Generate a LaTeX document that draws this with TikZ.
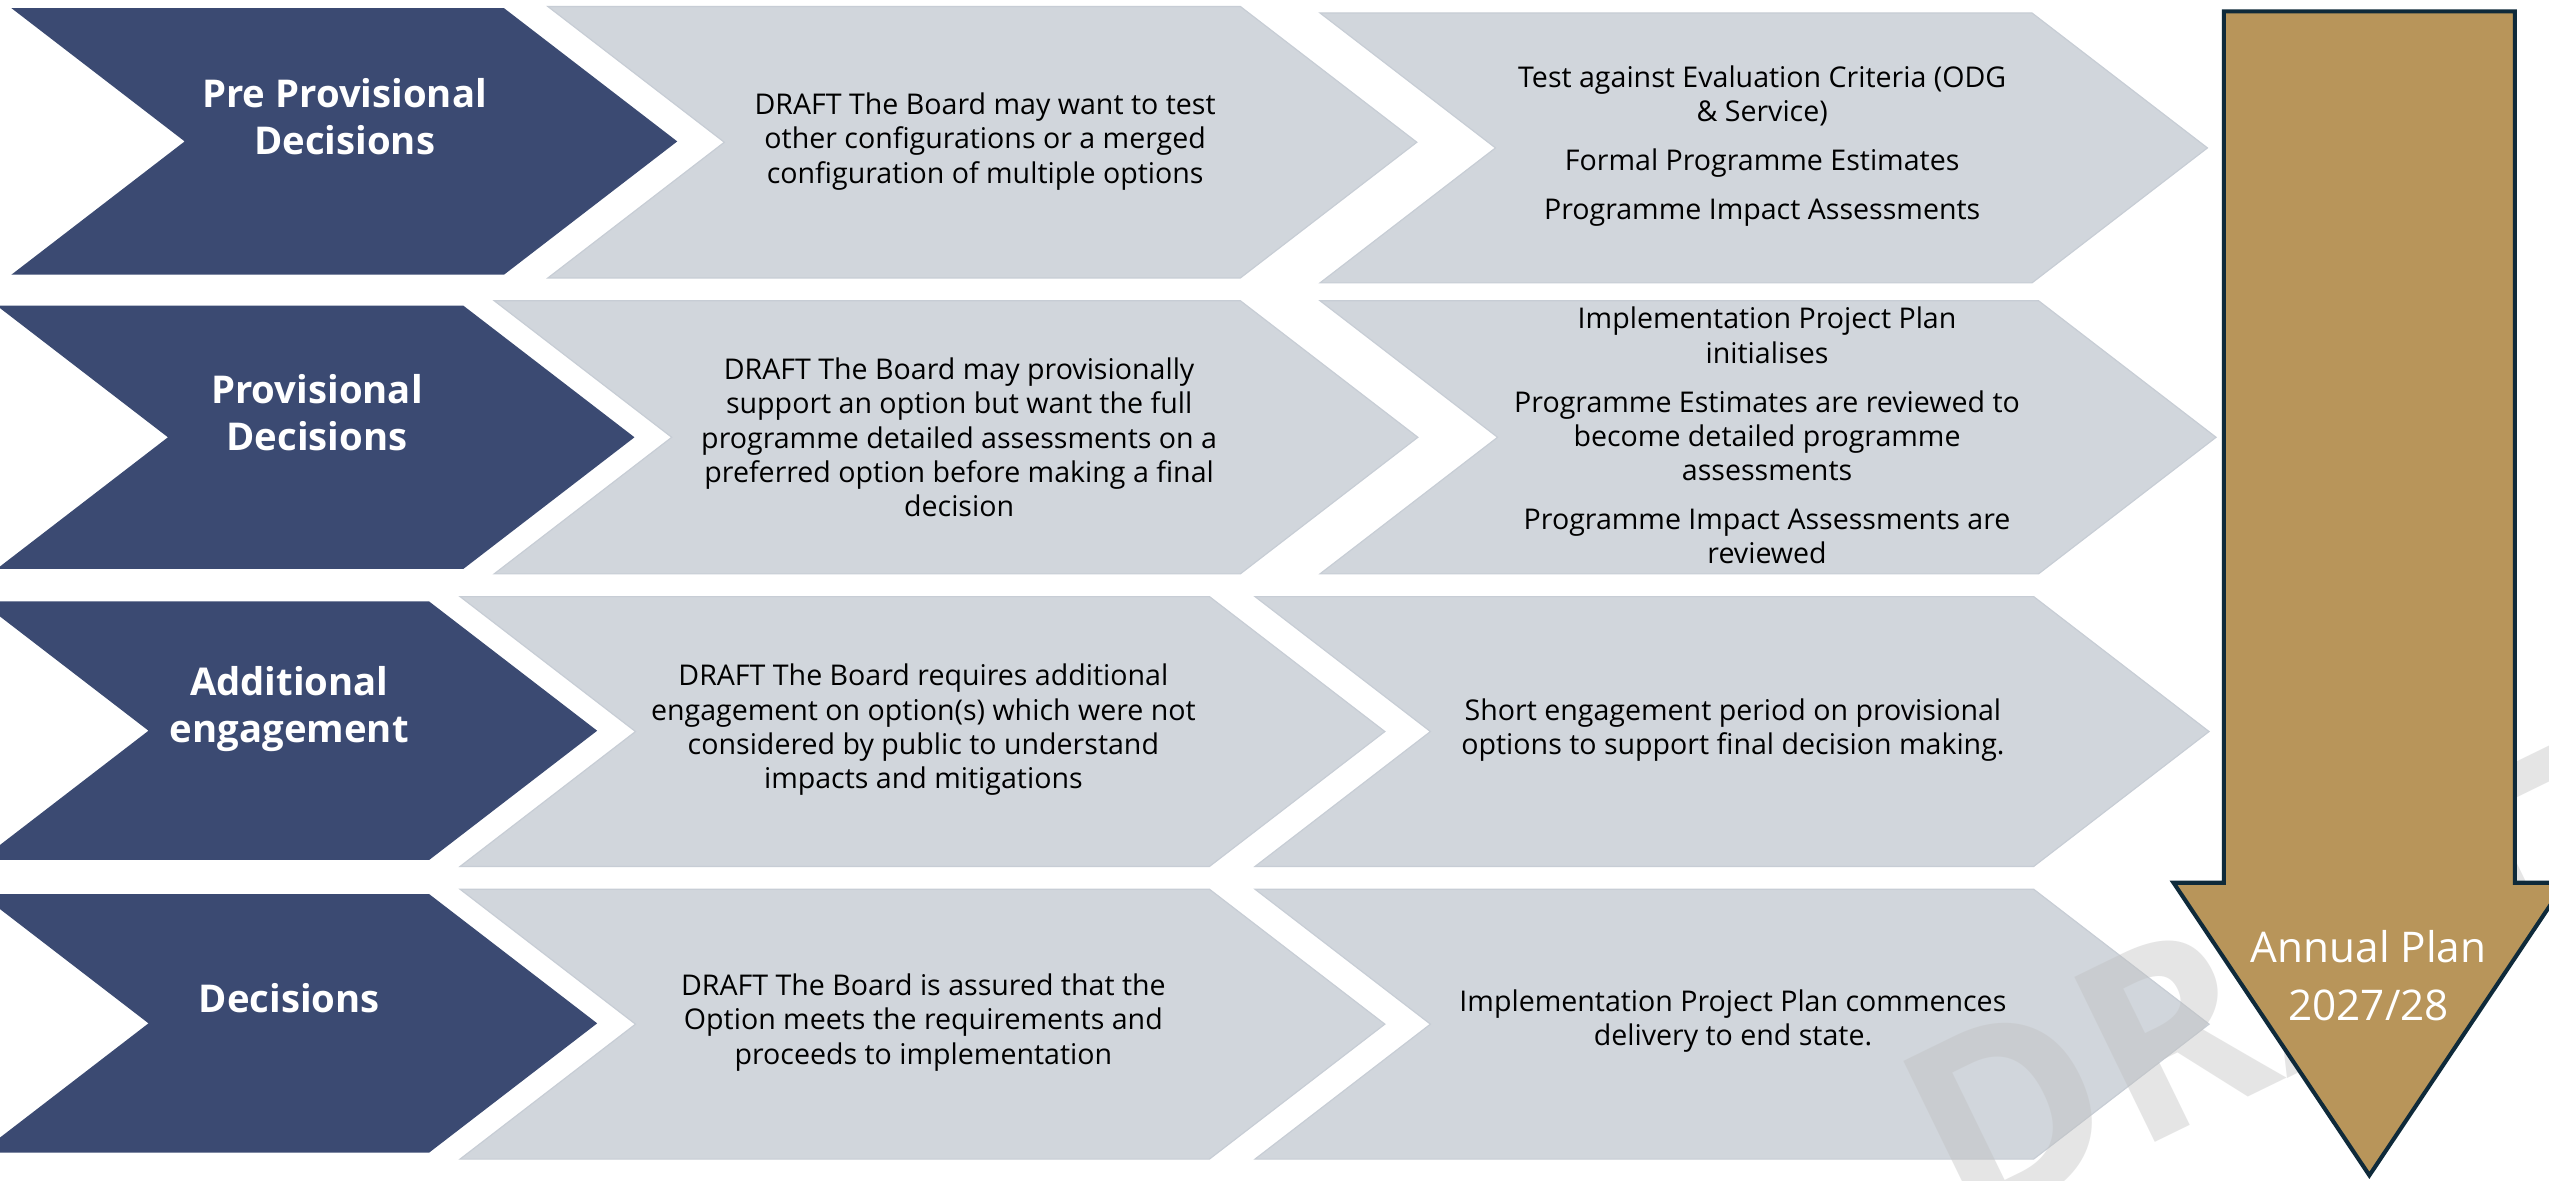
\documentclass[tikz,border=0pt]{standalone}
\usepackage{fontspec}
\setmainfont{Open Sans}
\definecolor{BoardNavy}{HTML}{3B4A72}
\definecolor{BoardMist}{HTML}{D1D6DC}
\definecolor{BoardMistLine}{HTML}{C7CDD5}
\definecolor{BoardGold}{HTML}{B8955A}
\definecolor{BoardInk}{HTML}{0F2A3A}
\definecolor{BoardMark}{HTML}{BFBFBF}
\tikzset{
  stagechev/.style={fill=BoardNavy},
  notechev/.style={fill=BoardMist,draw=BoardMistLine,line width=0.4pt},
  stagetxt/.style={
    align=center,
    inner sep=0pt,
    text=white,
    font=\fontsize{13.4}{16.4}\selectfont\bfseries
  },
  notetxt/.style={
    align=center,
    inner sep=0pt,
    text=black,
    font=\fontsize{10}{12}\selectfont
  },
  planarrow/.style={fill=BoardGold,draw=BoardInk,line width=0.5mm,line join=miter},
  plantxt/.style={
    align=center,
    inner sep=0pt,
    text=white,
    font=\fontsize{14.8}{20.4}\selectfont
  },
  draftmark/.style={
    inner sep=0pt,
    text=BoardMark,
    text opacity=0.4,
    font=\fontsize{90}{90}\selectfont\bfseries
  }
}
% chevron: style, left x, top y, right x, bottom y
\newcommand{\chev}[5]{%
  \path[#1] (#2,#3) -- (#4,#3) -- ({#4+0.65*(#5-#3)},{(#3+#5)/2})
    -- (#4,#5) -- (#2,#5) -- ({#2+0.65*(#5-#3)},{(#3+#5)/2}) -- cycle;}

\begin{document}
\begin{tikzpicture}[x=0.2mm,y=-0.2mm]
  \path[use as bounding box,fill=white] (0,0) rectangle (1568,726);

  % row 1
  \chev{stagechev}{7}{5}{310}{169}
  \chev{notechev}{337}{4}{763}{171}
  \chev{notechev}{812}{8}{1250}{174}
  \node[stagetxt] (pre) at (212,72) {Pre Provisional\\Decisions};
  \node[notetxt] (prenote) at (606,87) {DRAFT The Board may want to test\\other configurations or a merged\\configuration of multiple options};
  \node[notetxt] (prework) at (1084,90) {Test against Evaluation Criteria (ODG\\\& Service)\\[1.8mm]Formal Programme Estimates\\[1.8mm]Programme Impact Assessments};

  % row 2
  \chev{stagechev}{-2}{188}{285}{350}
  \chev{notechev}{304}{185}{763}{353}
  \chev{notechev}{812}{185}{1254}{353}
  \node[stagetxt] (prov) at (195,254) {Provisional\\Decisions};
  \node[notetxt] (provnote) at (590,269) {DRAFT The Board may provisionally\\support an option but want the full\\programme detailed assessments on a\\preferred option before making a final\\decision};
  \node[notetxt] (provwork) at (1087,268) {Implementation Project Plan\\initialises\\[1.8mm]Programme Estimates are reviewed to\\become detailed programme\\assessments\\[1.8mm]Programme Impact Assessments are\\reviewed};

  % row 3
  \chev{stagechev}{-12}{370}{264}{529}
  \chev{notechev}{283}{367}{744}{533}
  \chev{notechev}{772}{367}{1251}{533}
  \node[stagetxt] (addl) at (178,436) {Additional\\engagement};
  \node[notetxt] (addlnote) at (568,449) {DRAFT The Board requires additional\\engagement on option(s) which were not\\considered by public to understand\\impacts and mitigations};
  \node[notetxt] (addlwork) at (1066,449) {Short engagement period on provisional\\options to support final decision making.};

  % row 4
  \chev{stagechev}{-12}{550}{264}{709}
  \chev{notechev}{283}{547}{744}{713}
  \chev{notechev}{772}{547}{1251}{713}
  \node[stagetxt] (dec) at (178,614) {Decisions};
  \node[notetxt] (decnote) at (568,629) {DRAFT The Board is assured that the\\Option meets the requirements and\\proceeds to implementation};
  \node[notetxt] (decwork) at (1066,628) {Implementation Project Plan commences\\delivery to end state.};

  \node[draftmark,rotate=26] (mark) at (1412,598) {DRAFT};

  % annual plan arrow
  \path[planarrow] (1368,7) -- (1547,7) -- (1547,543) -- (1578,543) -- (1457.5,723)
    -- (1337,543) -- (1368,543) -- cycle;
  \node[plantxt] (plan) at (1457,600) {Annual Plan\\2027/28};
\end{tikzpicture}
\end{document}
